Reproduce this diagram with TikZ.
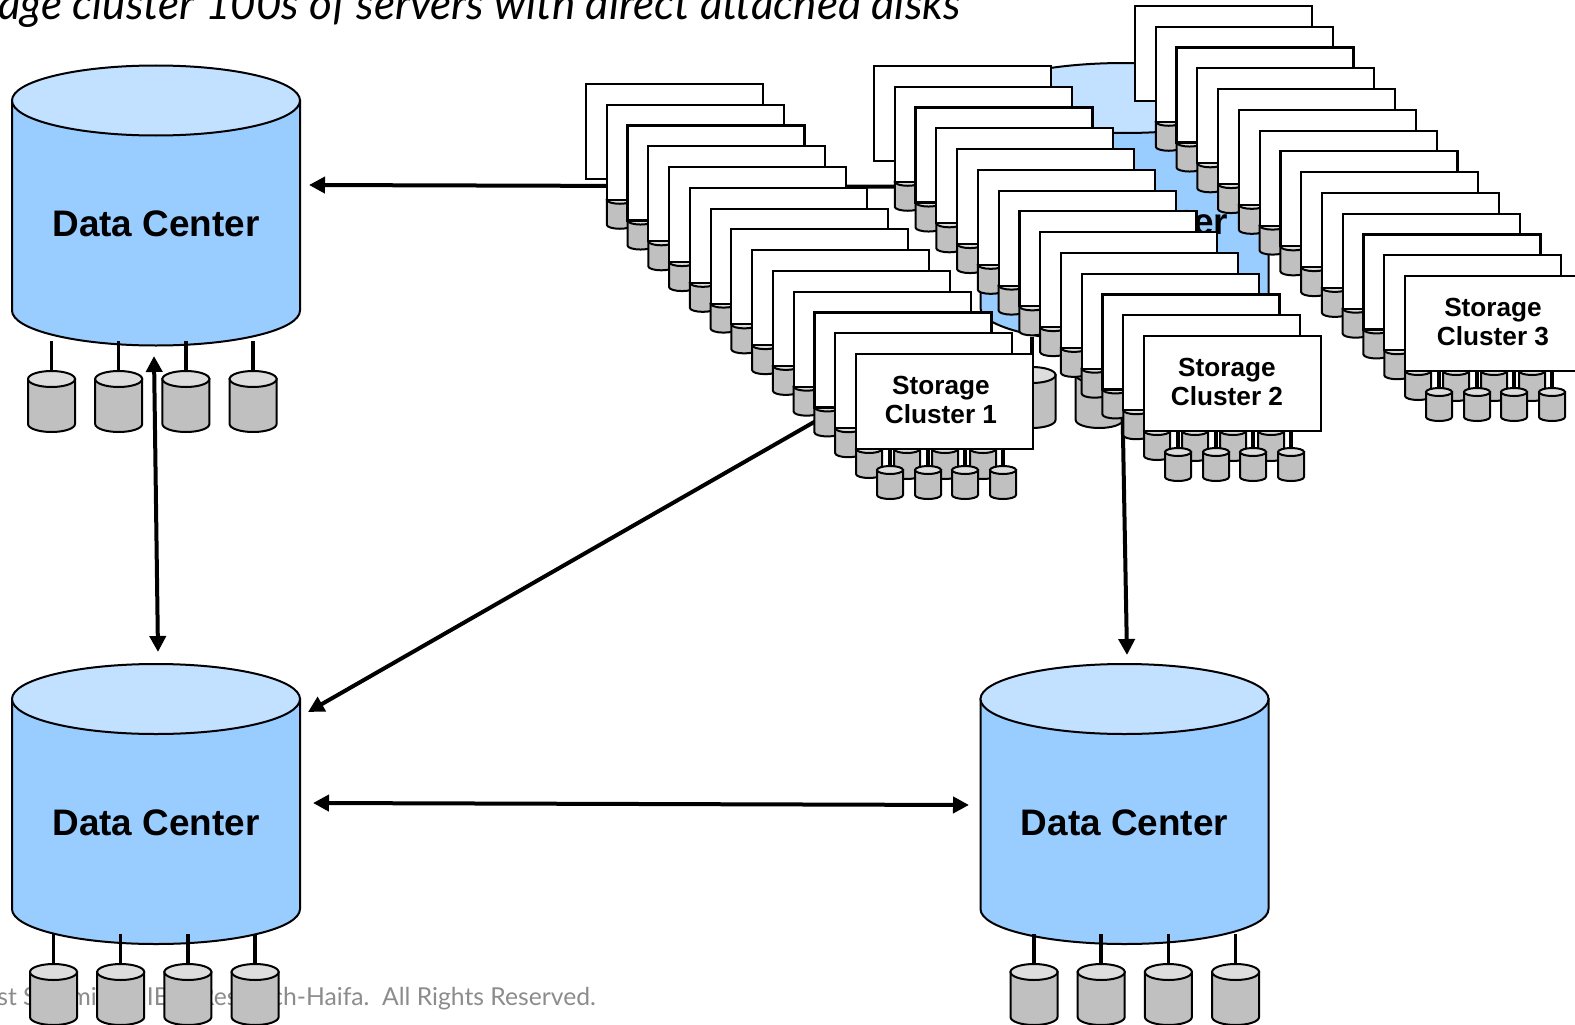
\documentclass[tikz,border=0pt]{standalone}
\usepackage{fontspec}
\setmainfont{Liberation Sans}
\newfontfamily\gillish{Lato}
\usetikzlibrary{arrows.meta}
\definecolor{dcside}{HTML}{99CCFF}
\definecolor{dctop}{HTML}{C2E0FF}
\definecolor{dkside}{HTML}{C0C0C0}
\definecolor{dktop}{HTML}{DDDDDD}
\definecolor{footgray}{HTML}{8C8C8C}
\tikzset{
  cyledge/.style={draw=black,line width=2pt},
  stick/.style={draw=black,line width=3.5pt},
  headtip/.tip={Triangle[length=16pt,width=16pt]},
  linkback/.style={draw=black,line width=4pt},
  serverbox/.style={draw=black,fill=white,line width=2.2pt,minimum width=177pt,minimum height=95pt,inner sep=0pt,anchor=north west,outer sep=0pt},
  dclabel/.style={font=\bfseries\fontsize{36.9}{40}\selectfont,inner sep=0pt},
  sclabel/.style={font=\bfseries\fontsize{26.2}{29}\selectfont,align=center,inner sep=0pt},
}
% left, top, width, height, ry, side colour, top colour
\newcommand{\cylshape}[7]{%
  \path[cyledge,fill=#6] ({#1},{#2+#5}) -- ({#1},{#2+#4-#5})
    arc[start angle=180,end angle=360,x radius={(#3)/2*1pt},y radius={#5*1pt}]
    -- ({#1+#3},{#2+#5}) -- cycle;
  \path[cyledge,fill=#7] ({#1+#3/2},{#2+#5}) ellipse [x radius={(#3)/2*1pt},y radius={#5*1pt}];
}
% data-centre left, top; disks left, top
\newcommand{\datacentre}[5]{%
  \cylshape{#1}{#2}{288}{280}{35}{dcside}{dctop}
  \node[dclabel] (#5) at ({#1+144},{#2+158.5}) {Data Center};
  \foreach \k in {0,1,2,3}{
    \path[stick] ({#3+23.5+67.2*\k},{#4-30}) -- ({#3+23.5+67.2*\k},{#4+2});
    \cylshape{#3+67.2*\k}{#4}{47}{61}{8}{dkside}{dktop}
  }
}
% left of first box, top of first box, number, name, label shift
\newcommand{\cluster}[5]{%
  \foreach \k in {0,...,13}{
    \pgfmathsetmacro{\bx}{#1+20.77*\k}
    \pgfmathsetmacro{\by}{#2+20.77*\k}
    \ifnum\k>0
      \cylshape{\bx}{\by+91}{26}{33}{4}{dkside}{dktop}
    \fi
    \ifnum\k=13
      \foreach \d in {38,76,114}{ \cylshape{\bx+\d}{\by+91}{26}{34}{4}{dkside}{dktop} }
      \foreach \d in {21,59,96,134}{
        \path[stick] ({\bx+\d+13},{\by+90}) -- ({\bx+\d+13},{\by+113});
        \cylshape{\bx+\d}{\by+112}{26}{33}{4}{dkside}{dktop}
      }
    \fi
    \node[serverbox] (#4s\k) at (\bx,\by) {};
  }
  \node[sclabel] (#4label) at ({#1+20.77*13+88+#5},{#2+20.77*13+46}) {Storage\\Cluster #3};
}
\begin{document}
\begin{tikzpicture}[x=1pt,y=-1pt]
\useasboundingbox (0,0) rectangle (1575,1025);
\fill[white] (0,0) rectangle (1575,1025);

% footer and title
\node[anchor=base east,inner sep=0pt,text=footgray,font=\gillish\fontsize{24.7}{28}\selectfont] (footer) at (596,1005) {st Summit \quad\ \hspace{4pt}IBM Research-Haifa.\ \ All Rights Reserved.};
\node[anchor=base east,inner sep=0pt,font=\gillish\itshape\fontsize{44}{48}\selectfont] (title) at (961,20) {age cluster 100s of servers with direct attached disks};

% named ends of the connectors
\coordinate (aL) at (309,185);
\coordinate (aR) at (980,187);
\coordinate (bT) at (154,356);
\coordinate (bB) at (158,652);
\coordinate (cL) at (308,712);
\coordinate (cR) at (870,390);
\coordinate (dT) at (1122,380);
\coordinate (dB) at (1127,655);
\coordinate (eL) at (313,803);
\coordinate (eR) at (969,805);

% back data centre
\datacentre{980.5}{63}{1008.5}{367}{dcBack}

% connectors
\draw[linkback,{headtip}-] (aL) -- (aR);
\draw[linkback,{headtip}-] (cL) -- (cR);
\draw[linkback,-{headtip}] (dT) -- (dB);

% storage clusters
\cluster{586}{84}{1}{cA}{-3}
\cluster{874}{66}{2}{cB}{-5}
\cluster{1135}{6}{3}{cC}{0}

% front data centres
\datacentre{12}{65.5}{28}{371}{dcA}
\datacentre{12}{664}{30}{964}{dcB}
\datacentre{980.5}{664}{1010.5}{964}{dcC}

\draw[linkback,{headtip}-{headtip}] (bT) -- (bB);
\draw[linkback,{headtip}-{headtip}] (eL) -- (eR);
\end{tikzpicture}
\end{document}
